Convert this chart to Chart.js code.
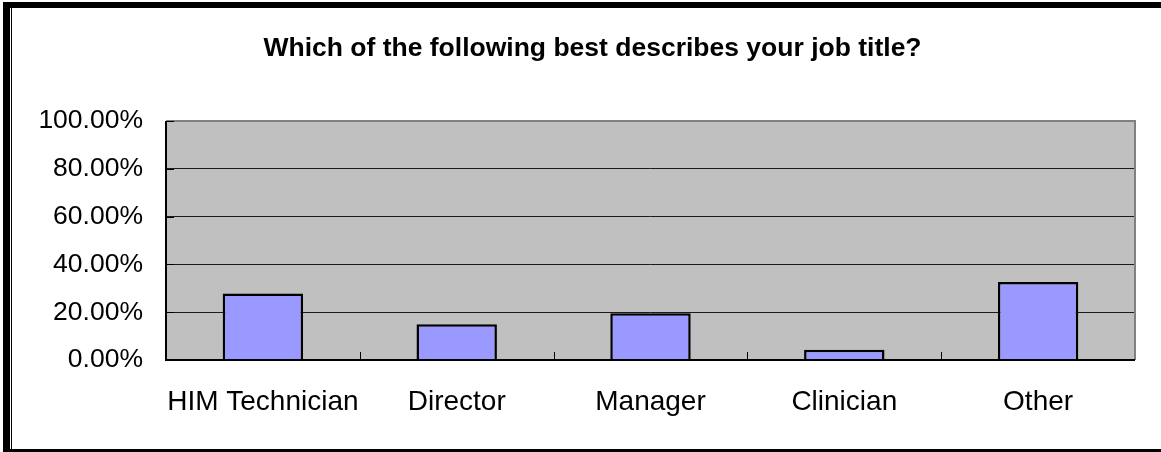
<!DOCTYPE html>
<html>
<head>
<meta charset="utf-8">
<script src="https://cdn.jsdelivr.net/npm/chart.js@4/dist/chart.umd.min.js"></script>
<style>
  html, body { margin: 0; padding: 0; background: #ffffff; }
  #wrap { position: relative; width: 1161px; height: 452px; overflow: hidden; background: #fff; }
  #chartBox { position: absolute; left: 0; top: 0; width: 1161px; height: 452px; }
  .frame { position: absolute; background: #000; }
  #title { position: absolute; left: 0; width: 1185px; top: 32px; line-height: 30px; text-align: center;
           font-weight: bold; font-size: 26.5px; font-family: "Liberation Sans", Arial, sans-serif; color: #000; white-space: nowrap; }
</style>
</head>
<body>
<div id="wrap">
  <div id="chartBox"><canvas id="c"></canvas></div>
  <div class="frame" style="left:3px; top:2px; width:1158px; height:6px;"></div>
  <div class="frame" style="left:3px; top:2px; width:7px; height:450px;"></div>
  <div class="frame" style="left:11px; top:8px; width:1px; height:442px;"></div>
  <div class="frame" style="left:10px; top:449px; width:1151px; height:3px;"></div>
  <div id="title">Which of the following best describes your job title?</div>
</div>
<script>
const categories = ["HIM Technician", "Director", "Manager", "Clinician", "Other"];
const percentValues = [27.8, 15.0, 19.6, 4.3, 32.6];
const yTickValues = [0, 20, 40, 60, 80, 100];

const plotDecor = {
  id: 'plotDecor',
  beforeDraw(chart) {
    const a = chart.chartArea, ctx = chart.ctx;
    ctx.save();
    ctx.fillStyle = '#C0C0C0';
    ctx.fillRect(a.left, a.top, a.right - a.left, a.bottom - a.top);
    ctx.restore();
  },
  afterDraw(chart) {
    const a = chart.chartArea, ctx = chart.ctx;
    const xs = chart.scales.x, ys = chart.scales.y;
    ctx.save();
    ctx.strokeStyle = '#808080';
    ctx.lineWidth = 2;
    ctx.beginPath();
    ctx.moveTo(a.left, a.top);
    ctx.lineTo(a.right, a.top);
    ctx.lineTo(a.right, a.bottom);
    ctx.stroke();
    ctx.strokeStyle = '#000';
    ctx.lineWidth = 1;
    ctx.beginPath();
    for (let i = 0; i < categories.length - 1; i++) {
      const bx = Math.round((xs.getPixelForValue(i) + xs.getPixelForValue(i + 1)) / 2) + 0.5;
      ctx.moveTo(bx, a.bottom);
      ctx.lineTo(bx, a.bottom - 8);
    }
    yTickValues.forEach(v => {
      const py = Math.round(ys.getPixelForValue(v)) + 0.5;
      ctx.moveTo(a.left, py);
      ctx.lineTo(a.left + 8, py);
    });
    ctx.stroke();
    ctx.lineWidth = 2;
    ctx.beginPath();
    ctx.moveTo(a.left, a.top);
    ctx.lineTo(a.left, a.bottom);
    ctx.lineTo(a.right, a.bottom);
    ctx.stroke();
    ctx.restore();
  }
};

new Chart(document.getElementById('c'), {
  type: 'bar',
  data: {
    labels: categories,
    datasets: [{
      data: percentValues,
      backgroundColor: '#9999FF',
      borderColor: '#000000',
      borderWidth: 2.5,
      borderSkipped: 'bottom',
      barPercentage: 0.415,
      categoryPercentage: 1.0
    }]
  },
  options: {
    responsive: true,
    maintainAspectRatio: false,
    animation: false,
    layout: { padding: { top: 121, left: 0, right: 26, bottom: 0 } },
    plugins: { legend: { display: false }, title: { display: false }, tooltip: { enabled: false } },
    scales: {
      x: {
        grid: { display: false, drawTicks: false },
        border: { display: false },
        ticks: { color: '#000', padding: 25, maxRotation: 0, autoSkip: false,
                 font: { family: '"Liberation Sans", Arial, sans-serif', size: 28 } },
        afterFit(s) { s.height = 92; }
      },
      y: {
        min: 0, max: 100,
        afterBuildTicks(s) { s.ticks = yTickValues.map(v => ({ value: v })); },
        grid: {
          drawTicks: false,
          color: ctx => (ctx.tick && (ctx.tick.value === 0 || ctx.tick.value === 100)) ? 'rgba(0,0,0,0)' : '#1a1a1a',
          lineWidth: 1
        },
        border: { display: false },
        ticks: { color: '#000', padding: 23,
                 font: { family: '"Liberation Sans", Arial, sans-serif', size: 26.5 },
                 callback: v => Number(v).toFixed(2) + '%' },
        afterFit(s) { s.width = 166; }
      }
    }
  },
  plugins: [plotDecor]
});
</script>
</body>
</html>
